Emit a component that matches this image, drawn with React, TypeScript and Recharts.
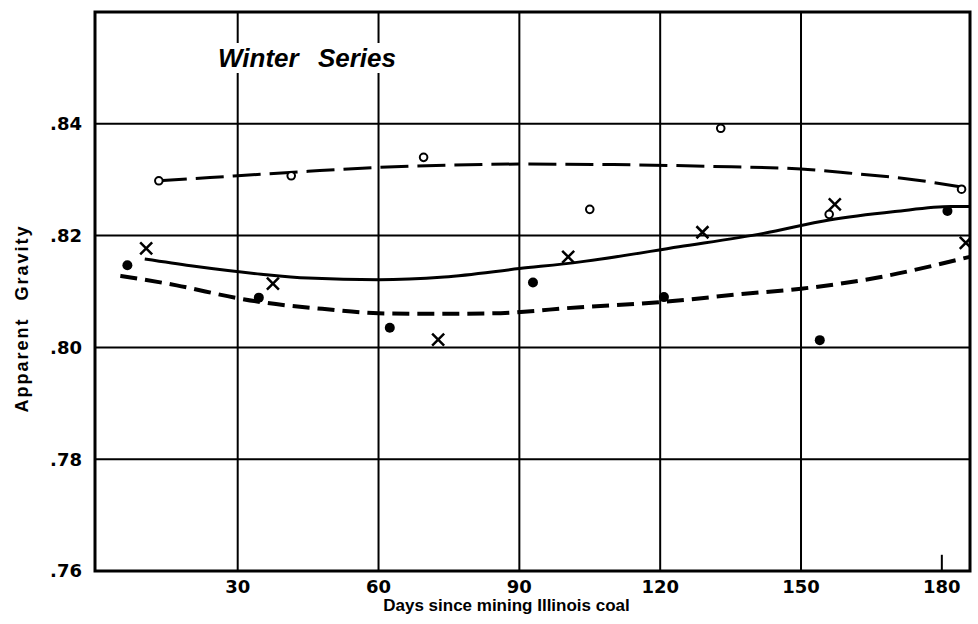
import React from 'react';
import { ComposedChart, Line, Scatter, XAxis, YAxis, ReferenceLine, ReferenceArea } from 'recharts';

// axis ticks and grid positions
const dayTicks = [30, 60, 90, 120, 150, 180];
const gridDays = [30, 60, 90, 120, 150];
const gravityTicks = [0.76, 0.78, 0.8, 0.82, 0.84];
const gridGravity = [0.78, 0.8, 0.82, 0.84];

const openPoints = [
  { day: 13.2, g: 0.8298 },
  { day: 41.4, g: 0.8307 },
  { day: 69.6, g: 0.834 },
  { day: 105, g: 0.8247 },
  { day: 132.9, g: 0.8392 },
  { day: 156, g: 0.8238 },
  { day: 184.2, g: 0.8283 },
];

const filledPoints = [
  { day: 6.5, g: 0.8147 },
  { day: 34.5, g: 0.8089 },
  { day: 62.4, g: 0.8035 },
  { day: 92.9, g: 0.8116 },
  { day: 120.8, g: 0.809 },
  { day: 154, g: 0.8013 },
  { day: 181.2, g: 0.8244 },
];

const crossPoints = [
  { day: 10.5, g: 0.8177 },
  { day: 37.5, g: 0.8114 },
  { day: 72.7, g: 0.8014 },
  { day: 100.4, g: 0.8162 },
  { day: 129, g: 0.8206 },
  { day: 157.2, g: 0.8256 },
  { day: 185.1, g: 0.8187 },
];

// hand drawn trend curves
const openCurve = [
  { day: 13.2, g: 0.8298 },
  { day: 30, g: 0.8307 },
  { day: 45, g: 0.8315 },
  { day: 60, g: 0.8322 },
  { day: 75, g: 0.8326 },
  { day: 90, g: 0.8328 },
  { day: 110, g: 0.8327 },
  { day: 130, g: 0.8324 },
  { day: 150, g: 0.8319 },
  { day: 160, g: 0.8312 },
  { day: 174, g: 0.83 },
  { day: 184.2, g: 0.8287 },
];

const crossCurve = [
  { day: 10.2, g: 0.8158 },
  { day: 20, g: 0.8146 },
  { day: 35, g: 0.8131 },
  { day: 45, g: 0.8124 },
  { day: 60, g: 0.8121 },
  { day: 74, g: 0.8126 },
  { day: 90, g: 0.8141 },
  { day: 103, g: 0.8153 },
  { day: 124, g: 0.818 },
  { day: 142, g: 0.8204 },
  { day: 156, g: 0.8228 },
  { day: 170, g: 0.8243 },
  { day: 182, g: 0.8252 },
  { day: 186, g: 0.8252 },
];

const filledCurve = [
  { day: 5, g: 0.8128 },
  { day: 17, g: 0.8111 },
  { day: 30, g: 0.8088 },
  { day: 35, g: 0.8081 },
  { day: 48, g: 0.8069 },
  { day: 60, g: 0.8061 },
  { day: 70, g: 0.806 },
  { day: 84, g: 0.8061 },
  { day: 103, g: 0.8072 },
  { day: 120, g: 0.8081 },
  { day: 138, g: 0.8096 },
  { day: 150, g: 0.8105 },
  { day: 167, g: 0.8126 },
  { day: 184.5, g: 0.8159 },
  { day: 186, g: 0.8162 },
];

const tickFont = { fontFamily: 'DejaVu Sans', fontSize: 18, fontWeight: 700, fill: '#000' };
const labelFont = "'Liberation Sans', Arial, sans-serif";

const OpenDot = (props: any) => (
  <circle cx={props.cx} cy={props.cy} r={3.8} fill="#fff" stroke="#000" strokeWidth={2} />
);

const FilledDot = (props: any) => <circle cx={props.cx} cy={props.cy} r={5} fill="#000" />;

const CrossMark = (props: any) => {
  const { cx, cy } = props;
  const s = 6;
  return (
    <path
      d={`M${cx - s},${cy - s}L${cx + s},${cy + s}M${cx + s},${cy - s}L${cx - s},${cy + s}`}
      stroke="#000"
      strokeWidth={2.5}
      fill="none"
    />
  );
};

const XLabel = (props: any) => {
  const vb = props.viewBox;
  return (
    <text
      x={vb.x + vb.width / 2 - 26}
      y={vb.y + 40}
      textAnchor="middle"
      fontFamily={labelFont}
      fontSize={17}
      fontWeight={700}
      fill="#000"
    >
      Days since mining Illinois coal
    </text>
  );
};

const YLabel = (props: any) => {
  const vb = props.viewBox;
  const x = 22;
  const y = vb.y + vb.height / 2 + 27;
  return (
    <text
      x={x}
      y={y}
      transform={`rotate(-90 ${x} ${y})`}
      textAnchor="middle"
      dominantBaseline="central"
      fontFamily={labelFont}
      fontSize={18}
      fontWeight={700}
      letterSpacing={2}
      wordSpacing={10}
      fill="#000"
    >
      Apparent Gravity
    </text>
  );
};

export default function App() {
  return (
    <div style={{ position: 'absolute', left: 0, top: 0, width: 978, height: 624, background: '#fff' }}>
      <ComposedChart width={978} height={624} margin={{ top: 12, right: 8, bottom: 0, left: 0 }}>
        <XAxis
          type="number"
          dataKey="day"
          domain={[-0.4, 186]}
          allowDataOverflow
          ticks={dayTicks}
          axisLine={false}
          tickLine={false}
          tickSize={6}
          tickMargin={3}
          height={53}
          tick={tickFont}
          label={{ content: XLabel }}
        />
        <YAxis
          type="number"
          dataKey="g"
          domain={[0.76, 0.86]}
          allowDataOverflow
          ticks={gravityTicks}
          tickFormatter={(v: number) => '.' + Math.round(v * 100)}
          axisLine={false}
          tickLine={false}
          tickSize={6}
          tickMargin={7}
          width={95}
          tick={tickFont}
          label={{ content: YLabel }}
        />

        {gridDays.map((d) => (
          <ReferenceLine key={'v' + d} x={d} stroke="#000" strokeWidth={2} />
        ))}
        {gridGravity.map((v) => (
          <ReferenceLine key={'h' + v} y={v} stroke="#000" strokeWidth={2} />
        ))}
        {/* short inner tick at 180 days */}
        <ReferenceLine
          segment={[{ x: 180, y: 0.76 }, { x: 180, y: 0.7629 }]}
          stroke="#000"
          strokeWidth={2}
        />
        <ReferenceArea x1={-0.4} x2={186} y1={0.76} y2={0.86} fill="none" stroke="#000" strokeWidth={3} />

        <Line
          data={openCurve}
          dataKey="g"
          type="monotone"
          stroke="#000"
          strokeWidth={3}
          strokeDasharray="28 9"
          dot={false}
          activeDot={false}
          isAnimationActive={false}
        />
        <Line
          data={crossCurve}
          dataKey="g"
          type="monotone"
          stroke="#000"
          strokeWidth={3}
          dot={false}
          activeDot={false}
          isAnimationActive={false}
        />
        <Line
          data={filledCurve}
          dataKey="g"
          type="monotone"
          stroke="#000"
          strokeWidth={4}
          strokeDasharray="17 8"
          dot={false}
          activeDot={false}
          isAnimationActive={false}
        />

        <Scatter data={openPoints} dataKey="g" shape={OpenDot} isAnimationActive={false} />
        <Scatter data={filledPoints} dataKey="g" shape={FilledDot} isAnimationActive={false} />
        <Scatter data={crossPoints} dataKey="g" shape={CrossMark} isAnimationActive={false} />
      </ComposedChart>
      <div
        style={{
          position: 'absolute',
          left: 216,
          top: 43,
          padding: '0 2px',
          background: '#fff',
          fontFamily: labelFont,
          fontSize: 26,
          lineHeight: '30px',
          fontWeight: 700,
          fontStyle: 'italic',
          wordSpacing: 12,
          color: '#000',
          whiteSpace: 'nowrap',
        }}
      >
        Winter Series
      </div>
    </div>
  );
}
